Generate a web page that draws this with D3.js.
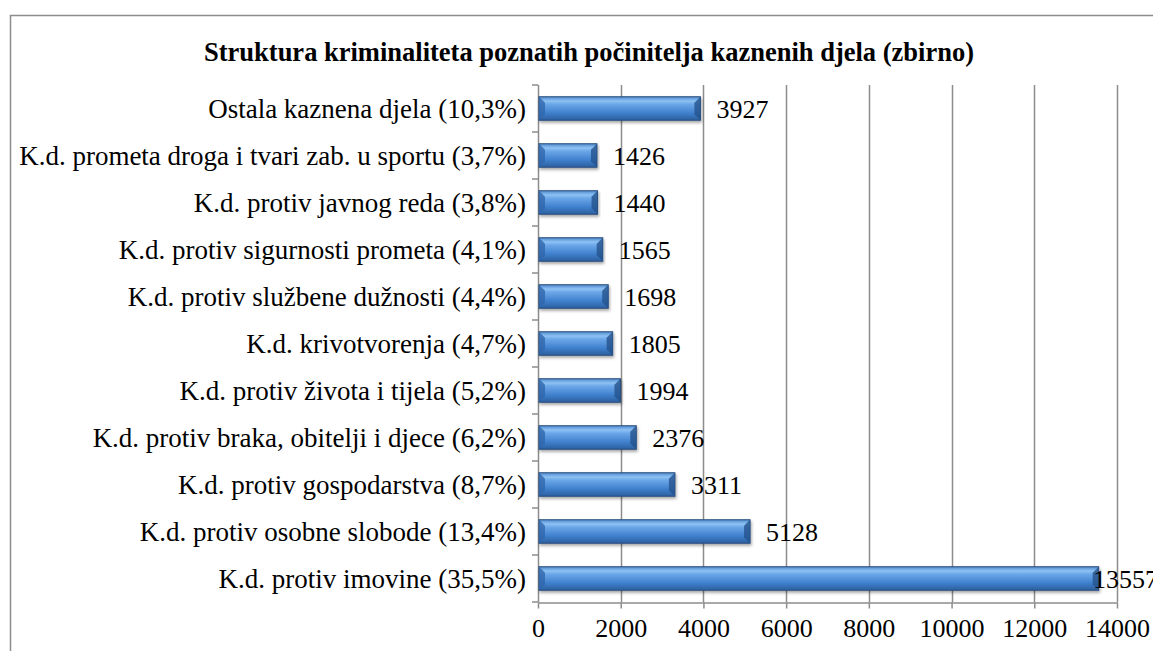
<!DOCTYPE html>
<html>
<head>
<meta charset="utf-8">
<script src="https://cdn.jsdelivr.net/npm/d3@7"></script>
<style>
  body { margin: 0; background: #fff; }
  svg { display: block; }
</style>
</head>
<body>
<div id="canvas"></div>
<script>
// Chart data, top to bottom as drawn.
const CATEGORIES = [
    "Ostala kaznena djela (10,3%)",
    "K.d. prometa droga i tvari zab. u sportu (3,7%)",
    "K.d. protiv javnog reda (3,8%)",
    "K.d. protiv sigurnosti prometa (4,1%)",
    "K.d. protiv službene dužnosti (4,4%)",
    "K.d. krivotvorenja (4,7%)",
    "K.d. protiv života i tijela (5,2%)",
    "K.d. protiv braka, obitelji i djece (6,2%)",
    "K.d. protiv gospodarstva (8,7%)",
    "K.d. protiv osobne slobode (13,4%)",
    "K.d. protiv imovine (35,5%)"
];
const VALUES = [3927, 1426, 1440, 1565, 1698, 1805, 1994, 2376, 3311, 5128, 13557];
const X_TICKS = [0, 2000, 4000, 6000, 8000, 10000, 12000, 14000];
const TITLE = "Struktura kriminaliteta poznatih počinitelja kaznenih djela (zbirno)";

// Dimensions and colours.
const WIDTH = 1153;
const HEIGHT = 651;
const PLOT_LEFT = 538;
const PLOT_RIGHT = 1117;
const PLOT_TOP = 85;
const PLOT_BOTTOM = 602;
const GRID_COLOR = "#8c8c8c";
const FONT = "Liberation Serif, Times New Roman, serif";

const data = CATEGORIES.map((c, i) => ({ category: c, value: VALUES[i] }));

const svg = d3.select("#canvas")
    .append("svg")
    .attr("width", WIDTH)
    .attr("height", HEIGHT);

// Gradient and shadow for the bevelled bars.
const defs = svg.append("defs");
const grad = defs.append("linearGradient")
    .attr("id", "barGrad")
    .attr("x1", 0).attr("y1", 0).attr("x2", 0).attr("y2", 1);
[
    [0, "#4f8ad0"],
    [0.18, "#8ec2f3"],
    [0.32, "#6aa6e8"],
    [0.7, "#3f7fcc"],
    [1, "#2c5f9f"]
].forEach(([o, c]) => grad.append("stop").attr("offset", o).attr("stop-color", c));

const shadow = defs.append("filter")
    .attr("id", "shadow")
    .attr("x", "-5%").attr("y", "-30%")
    .attr("width", "110%").attr("height", "170%");
shadow.append("feDropShadow")
    .attr("dx", 1).attr("dy", 2)
    .attr("stdDeviation", 1.5)
    .attr("flood-color", "#000")
    .attr("flood-opacity", 0.35);

// Outer chart border (cut off at right and bottom).
svg.append("path")
    .attr("d", `M10.5,${HEIGHT + 5}V15.5H${WIDTH + 5}`)
    .attr("fill", "none")
    .attr("stroke", GRID_COLOR)
    .attr("stroke-width", 1.5);

// Title.
svg.append("text")
    .attr("x", 589)
    .attr("y", 61)
    .attr("text-anchor", "middle")
    .style("font-family", FONT)
    .style("font-weight", "bold")
    .style("font-size", "26.5px")
    .text(TITLE);

// Scales.
const xScale = d3.scaleLinear()
    .domain([0, 14000])
    .range([PLOT_LEFT, PLOT_RIGHT]);
const yScale = d3.scaleBand()
    .domain(CATEGORIES)
    .range([PLOT_TOP, PLOT_BOTTOM])
    .paddingInner(0.5)
    .paddingOuter(0.25);

// Vertical grid lines.
svg.append("g")
    .selectAll("line")
    .data(X_TICKS.slice(1))
    .join("line")
    .attr("x1", d => Math.round(xScale(d)) + 0.5)
    .attr("x2", d => Math.round(xScale(d)) + 0.5)
    .attr("y1", PLOT_TOP)
    .attr("y2", PLOT_BOTTOM)
    .attr("stroke", GRID_COLOR)
    .attr("stroke-width", 1.5);

// Bottom axis.
const xAxis = d3.axisBottom(xScale)
    .tickValues(X_TICKS)
    .tickFormat(d3.format("d"))
    .tickSizeInner(6)
    .tickSizeOuter(0)
    .tickPadding(10);
const xAxisGroup = svg.append("g")
    .attr("transform", `translate(0, ${PLOT_BOTTOM + 0.5})`)
    .call(xAxis);
xAxisGroup.select(".domain").attr("stroke", GRID_COLOR).attr("stroke-width", 1.5);
xAxisGroup.selectAll(".tick line").attr("stroke", GRID_COLOR).attr("stroke-width", 1.5);
xAxisGroup.selectAll(".tick text")
    .style("font-family", FONT)
    .style("font-size", "26px")
    .attr("fill", "#000");

// Left axis: line, band-boundary ticks and category labels.
const leftAxis = svg.append("g");
leftAxis.append("line")
    .attr("x1", PLOT_LEFT + 0.5).attr("x2", PLOT_LEFT + 0.5)
    .attr("y1", PLOT_TOP).attr("y2", PLOT_BOTTOM)
    .attr("stroke", GRID_COLOR)
    .attr("stroke-width", 1.5);
const boundaries = d3.range(CATEGORIES.length + 1).map(i => PLOT_TOP + i * (PLOT_BOTTOM - PLOT_TOP) / CATEGORIES.length);
leftAxis.selectAll(".btick")
    .data(boundaries)
    .join("line")
    .attr("class", "btick")
    .attr("x1", PLOT_LEFT - 6).attr("x2", PLOT_LEFT)
    .attr("y1", d => d).attr("y2", d => d)
    .attr("stroke", GRID_COLOR)
    .attr("stroke-width", 1.5);
leftAxis.selectAll(".cat")
    .data(CATEGORIES)
    .join("text")
    .attr("class", "cat")
    .attr("x", PLOT_LEFT - 12)
    .attr("y", d => yScale(d) + yScale.bandwidth() / 2)
    .attr("dy", "0.35em")
    .attr("text-anchor", "end")
    .style("font-family", FONT)
    .style("font-size", "27px")
    .text(d => d);

// Bars.
const bh = yScale.bandwidth();
const bars = svg.append("g").selectAll("g")
    .data(data)
    .join("g")
    .attr("filter", "url(#shadow)");
bars.append("rect")
    .attr("x", PLOT_LEFT + 1)
    .attr("y", d => yScale(d.category))
    .attr("width", d => xScale(d.value) - PLOT_LEFT - 1)
    .attr("height", bh)
    .attr("fill", "url(#barGrad)")
    .attr("stroke", "#2a4e7c")
    .attr("stroke-width", 1);
// Bevelled end caps.
const bevel = 6;
bars.append("path")
    .attr("d", d => {
        const x0 = PLOT_LEFT + 1, y0 = yScale(d.category), y1 = y0 + bh;
        return `M${x0},${y0}L${x0 + bevel},${y0 + bevel}V${y1 - bevel}L${x0},${y1}Z`;
    })
    .attr("fill", "#2f66ab")
    .attr("opacity", 0.8);
bars.append("path")
    .attr("d", d => {
        const x1 = xScale(d.value), y0 = yScale(d.category), y1 = y0 + bh;
        return `M${x1},${y0}L${x1 - bevel},${y0 + bevel}V${y1 - bevel}L${x1},${y1}Z`;
    })
    .attr("fill", "#24528c")
    .attr("opacity", 0.8);

// Value labels (pushed back inside the plot when they would overflow).
svg.append("g").selectAll("text")
    .data(data)
    .join("text")
    .attr("x", d => Math.min(xScale(d.value) + 16, PLOT_RIGHT - 24))
    .attr("y", d => yScale(d.category) + bh / 2)
    .attr("dy", "0.36em")
    .style("font-family", FONT)
    .style("font-size", "26px")
    .text(d => d.value);
</script>
</body>
</html>
